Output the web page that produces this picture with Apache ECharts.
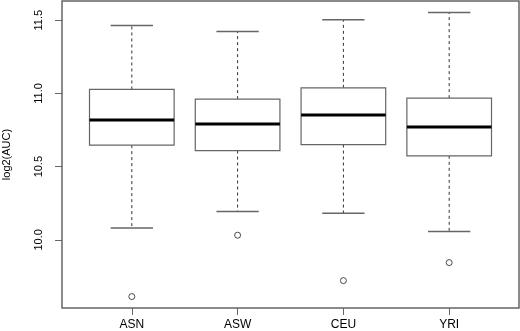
<!DOCTYPE html>
<html>
<head>
<meta charset="utf-8">
<script src="https://cdn.jsdelivr.net/npm/echarts@6/dist/echarts.min.js"></script>
<style>
html, body { margin: 0; padding: 0; background: #fff; }
#chart { width: 520px; height: 331px; }
</style>
</head>
<body>
<div id="chart"></div>
<script>
// values
const categories = ["ASN", "ASW", "CEU", "YRI"]
const whiskerLow = [10.082, 10.193, 10.182, 10.057]
const q1 = [10.647, 10.610, 10.651, 10.574]
const median = [10.818, 10.792, 10.852, 10.770]
const q3 = [11.027, 10.961, 11.038, 10.968]
const whiskerHigh = [11.464, 11.423, 11.503, 11.553]
const outliers = [9.613, 10.032, 9.722, 9.845]
const yTicks = [10.0, 10.5, 11.0, 11.5]

const chart = echarts.init(document.getElementById("chart"))

const boxData = categories.map((c, i) => [i + 1, whiskerLow[i], q1[i], median[i], q3[i], whiskerHigh[i]])
const outlierData = outliers.map((v, i) => [i + 1, v])

const font = "Liberation Sans, Arial, sans-serif"

const option = {
	animation: false,
	backgroundColor: "#fff",
	grid: {
		left: 62,
		right: 1,
		top: 1,
		bottom: 23,
		outerBoundsMode: "none",
		containLabel: false,
		show: true,
		borderColor: "#666",
		borderWidth: 1.5
	},
	xAxis: {
		type: "value",
		min: 0.34,
		max: 4.66,
		axisLine: { show: false },
		splitLine: { show: false },
		axisTick: {
			show: true,
			length: 7,
			customValues: [1, 2, 3, 4],
			lineStyle: { color: "#666" }
		},
		axisLabel: {
			customValues: [1, 2, 3, 4],
			formatter: (v) => categories[Math.round(v) - 1] || "",
			color: "#000",
			fontSize: 12,
			fontFamily: font,
			margin: 11
		}
	},
	yAxis: {
		type: "value",
		min: 9.535,
		max: 11.631,
		name: "log2(AUC)",
		nameLocation: "middle",
		nameRotate: 90,
		nameGap: 50,
		nameTextStyle: { color: "#000", fontSize: 11, fontFamily: font },
		axisLine: { show: false },
		splitLine: { show: false },
		axisTick: {
			show: true,
			length: 7,
			customValues: yTicks,
			lineStyle: { color: "#666" }
		},
		axisLabel: {
			customValues: yTicks,
			formatter: (v) => v.toFixed(1),
			rotate: 90,
			color: "#000",
			fontSize: 11,
			fontFamily: font,
			margin: 18
		}
	},
	series: [
		{
			type: "custom",
			data: boxData,
			encode: { x: 0, y: [1, 2, 3, 4, 5] },
			renderItem: function (params, api) {
				const x = api.value(0)
				const boxW = api.size([0.8, 0])[0]
				const capW = api.size([0.4, 0])[0]
				const cx = api.coord([x, 0])[0]
				const yLow = api.coord([x, api.value(1)])[1]
				const yQ1 = api.coord([x, api.value(2)])[1]
				const yMed = api.coord([x, api.value(3)])[1]
				const yQ3 = api.coord([x, api.value(4)])[1]
				const yHigh = api.coord([x, api.value(5)])[1]
				const grey = "#666"
				return {
					type: "group",
					children: [
						{
							type: "line",
							shape: { x1: cx, y1: yQ3, x2: cx, y2: yHigh },
							style: { stroke: "#333", lineWidth: 1, lineDash: [3, 3] }
						},
						{
							type: "line",
							shape: { x1: cx, y1: yQ1, x2: cx, y2: yLow },
							style: { stroke: "#333", lineWidth: 1, lineDash: [3, 3] }
						},
						{
							type: "line",
							shape: { x1: cx - capW / 2, y1: yHigh, x2: cx + capW / 2, y2: yHigh },
							style: { stroke: grey, lineWidth: 1.5 }
						},
						{
							type: "line",
							shape: { x1: cx - capW / 2, y1: yLow, x2: cx + capW / 2, y2: yLow },
							style: { stroke: grey, lineWidth: 1.5 }
						},
						{
							type: "rect",
							shape: { x: cx - boxW / 2, y: yQ3, width: boxW, height: yQ1 - yQ3 },
							style: { fill: "#fff", stroke: grey, lineWidth: 1.2 }
						},
						{
							type: "line",
							shape: { x1: cx - boxW / 2, y1: yMed, x2: cx + boxW / 2, y2: yMed },
							style: { stroke: "#000", lineWidth: 3 }
						}
					]
				}
			}
		},
		{
			type: "scatter",
			data: outlierData,
			symbol: "circle",
			symbolSize: 6,
			itemStyle: { color: "#fff", borderColor: "#222", borderWidth: 1 }
		}
	]
}
chart.setOption(option)
</script>
</body>
</html>
